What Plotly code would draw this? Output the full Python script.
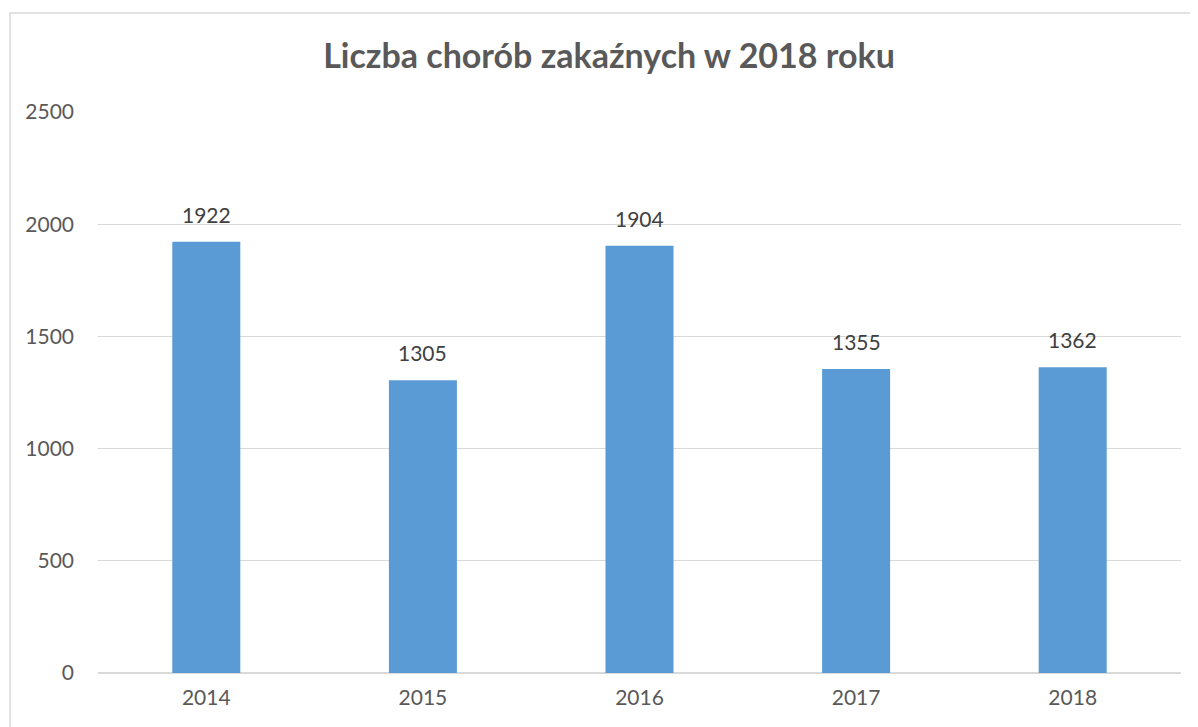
import plotly.graph_objects as go

years = ["2014", "2015", "2016", "2017", "2018"]
values = [1922, 1305, 1904, 1355, 1362]
y_ticks = [0, 500, 1000, 1500, 2000, 2500]
title_text = "Liczba chorób zakaźnych w 2018 roku"

# page body adds an 8px offset, so the figure is 8px smaller
W, H = 1190, 719
L, R, T, B = 90, 17, 104, 54
pw, ph = W - L - R, H - T - B

FONT = "Lato, 'Open Sans', sans-serif"

fig = go.Figure()
fig.add_trace(go.Bar(
    x=years, y=values,
    marker=dict(color="#5b9bd5", line=dict(width=0)),
    width=0.314,
    hoverinfo="x+y",
))

for i, v in enumerate(values):
    fig.add_annotation(
        x=i, y=v, text=str(v), showarrow=False,
        xref="x", yref="y",
        yanchor="bottom", yshift=13,
        font=dict(family=FONT, size=21, color="#404040"),
    )

# chart border
fig.add_shape(
    type="rect", xref="paper", yref="paper",
    x0=(2 - L) / pw, x1=(1215 - L) / pw,
    y0=-0.3, y1=(H - B - 5) / ph,
    line=dict(color="#d9d9d9", width=1.5),
    fillcolor="rgba(0,0,0,0)", layer="below",
)

fig.update_layout(
    width=W, height=H,
    margin=dict(l=L, r=R, t=T, b=B, pad=0),
    paper_bgcolor="white", plot_bgcolor="white",
    showlegend=False,
    title=dict(
        text="<b>" + title_text + "</b>",
        x=601 / W, xanchor="center", xref="container",
        y=1 - 48 / H, yanchor="middle", yref="container",
        font=dict(family=FONT, size=34, color="#595959"),
    ),
    xaxis=dict(
        type="category",
        range=[-0.5, 4.5],
        showgrid=False, showline=False, zeroline=False,
        ticks="", ticklabelstandoff=10,
        tickfont=dict(family=FONT, size=21, color="#595959"),
    ),
    yaxis=dict(
        range=[0, 2500],
        tickvals=y_ticks,
        showgrid=True, gridcolor="#d9d9d9", gridwidth=1,
        zeroline=True, zerolinecolor="#d9d9d9", zerolinewidth=1.5,
        showline=False, ticks="", ticklabelstandoff=23,
        tickfont=dict(family=FONT, size=21, color="#595959"),
    ),
)

fig.write_html("out.html")
